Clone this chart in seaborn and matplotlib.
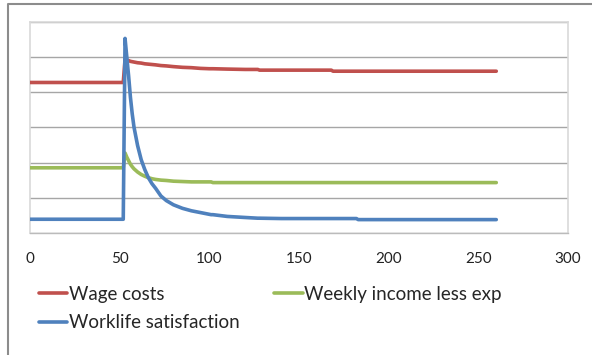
import matplotlib
matplotlib.use("Agg")
import matplotlib.pyplot as plt
from matplotlib.lines import Line2D
import seaborn as sns
import pandas as pd

# Week numbers shared by all three series
weeks = [0, 52, 53, 54, 55, 56, 57, 58, 60, 62, 64, 66, 68, 70, 73, 76, 80, 85,
         90, 95, 100, 101, 102, 110, 120, 127, 128, 140, 168, 169, 182, 183,
         200, 230, 260]

wage_costs = [4.27, 4.27, 4.92, 4.90, 4.89, 4.87, 4.86, 4.85, 4.83, 4.82, 4.80,
              4.79, 4.78, 4.77, 4.75, 4.74, 4.72, 4.70, 4.69, 4.67, 4.66, 4.66,
              4.66, 4.65, 4.64, 4.64, 4.62, 4.62, 4.62, 4.59, 4.59, 4.59, 4.59,
              4.59, 4.59]

weekly_income = [1.85, 1.85, 2.27, 2.15, 2.05, 1.95, 1.88, 1.82, 1.73, 1.66, 1.61,
                 1.57, 1.54, 1.52, 1.50, 1.49, 1.47, 1.46, 1.45, 1.45, 1.45, 1.45,
                 1.43, 1.43, 1.43, 1.43, 1.43, 1.43, 1.43, 1.43, 1.43, 1.43, 1.43,
                 1.43, 1.43]

worklife = [0.39, 0.39, 5.52, 4.98, 4.45, 3.85, 3.38, 3.00, 2.48, 2.08, 1.80,
            1.57, 1.40, 1.27, 1.05, 0.92, 0.80, 0.70, 0.63, 0.58, 0.53, 0.52,
            0.52, 0.47, 0.44, 0.42, 0.42, 0.41, 0.41, 0.41, 0.41, 0.38, 0.38,
            0.38, 0.38]

series_names = ["Wage costs", "Weekly income less exp", "Worklife satisfaction"]
series_colors = ["#C0504D", "#9BBB59", "#4F81BD"]
x_ticks = [0, 50, 100, 150, 200, 250, 300]

sns.set_style("white")
plt.rcParams["font.family"] = ["Lato", "DejaVu Sans"]

frames = []
for name, vals in zip(series_names, [wage_costs, weekly_income, worklife]):
    frames.append(pd.DataFrame({"week": weeks, "value": vals, "series": name}))
df = pd.concat(frames, ignore_index=True)

fig = plt.figure(figsize=(5.92, 3.55), dpi=100)
ax = fig.add_axes([30 / 592, 1 - 233 / 355, 538 / 592, 211.5 / 355])

sns.lineplot(data=df, x="week", y="value", hue="series", hue_order=series_names,
             palette=dict(zip(series_names, series_colors)), linewidth=2.6,
             ax=ax, legend=False, zorder=3)

ax.set_xlim(0, 300)
ax.set_ylim(0, 6)
ax.set_xticks(x_ticks)
ax.set_xticklabels([str(t) for t in x_ticks], fontsize=11, color="#222222")
ax.set_yticks(range(0, 7))
ax.set_yticklabels([])
ax.tick_params(axis="y", length=0)
ax.tick_params(axis="x", length=4, width=1, color="#BBBBBB", pad=10, direction="out")
ax.yaxis.grid(True, color="#A6A6A6", linewidth=1)
ax.set_axisbelow(True)
ax.set_xlabel("")
ax.set_ylabel("")
for side in ["left", "top", "right"]:
    ax.spines[side].set_color("#D9D9D9")
    ax.spines[side].set_linewidth(1.2)
ax.spines["bottom"].set_color("#BBBBBB")
ax.spines["bottom"].set_linewidth(1)

# Legend below the plot, filled row by row
handles = [Line2D([], [], color=c, linewidth=2.6) for c in series_colors]
order = [0, 2, 1]
fig.legend([handles[i] for i in order], [series_names[i] for i in order],
           loc="upper left", bbox_to_anchor=(39 / 592, 1 - 286 / 355), ncol=2,
           frameon=False, fontsize=13.5, handlelength=1.5, handletextpad=0.1,
           labelspacing=0.6, columnspacing=1.85, borderaxespad=0, borderpad=0)

# Outer chart frame
fig.add_artist(Line2D([7.5 / 592, 7.5 / 592, 1], [0, 1 - 3.5 / 355, 1 - 3.5 / 355],
                      transform=fig.transFigure, color="#8C8C8C", linewidth=1.5))

fig.savefig("out.png", dpi=100)
